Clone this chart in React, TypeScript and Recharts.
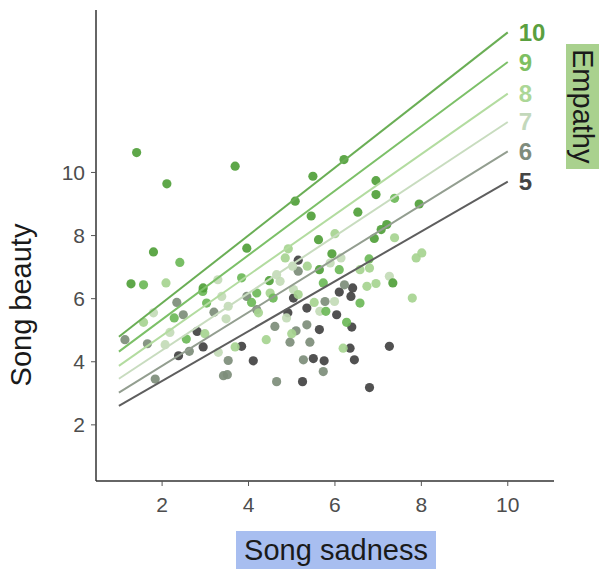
import React from "react";
import { ComposedChart, Scatter, XAxis, YAxis } from "recharts";

// empathy levels, low to high
const EMPATHY = [5, 6, 7, 8, 9, 10];
const POINT_COLORS = ["#424242", "#7d8d7a", "#c3dbb7", "#a6d490", "#6cb858", "#50a03a"];
const LINE_COLORS = ["#5e5e5e", "#939e90", "#c8dcbf", "#b3dca0", "#7cc068", "#6aae55"];
const LABEL_COLORS = ["#454545", "#7f8c7d", "#c3d8bb", "#acd797", "#7dbf62", "#5aa03f"];

// fitted lines: song sadness 1 -> 10
const LINE_X = [1, 10];
const LINE_START = [2.6, 3.02, 3.46, 3.87, 4.32, 4.79];
const LINE_END = [9.71, 10.67, 11.6, 12.5, 13.5, 14.44];

const X_TICKS = [2, 4, 6, 8, 10];
const Y_TICKS = [2, 4, 6, 8, 10];

// [song sadness, song beauty]
const pts5 = [
  [5.15, 7.22], [5.04, 6.02], [6.1, 6.21], [6.41, 6.34], [6.37, 6.07], [5.35, 5.7], [6.04, 5.49],
  [4.91, 5.55], [5.64, 5.02], [6.39, 5.1], [6.35, 4.43], [7.26, 4.49], [4.11, 4.03], [5.5, 4.1],
  [5.75, 4.03], [6.45, 4.06], [5.25, 3.37], [6.8, 3.18], [2.81, 4.96], [2.95, 4.47], [2.38, 4.19],
  [3.84, 4.49],
];
const pts6 = [
  [5.15, 6.87], [6.22, 6.44], [5.77, 5.91], [4.19, 5.65], [4.61, 5.12], [5.1, 4.98], [5.35, 5.17],
  [4.96, 4.62], [5.42, 4.62], [5.27, 4.06], [5.73, 3.69], [4.65, 3.37], [3.96, 6.07], [2.34, 5.88],
  [2.49, 5.49], [3.2, 5.57], [1.14, 4.7], [1.66, 4.57], [2.63, 4.33], [3.53, 4.04], [3.42, 3.56],
  [3.51, 3.59], [1.84, 3.45],
];
const pts7 = [
  [6.14, 7.29], [5.02, 7.03], [7.26, 6.71], [4.73, 6.55], [5.04, 6.29], [5.65, 5.6], [5.99, 5.91],
  [4.88, 5.39], [3.29, 6.6], [3.38, 6.07], [1.8, 5.55], [3.53, 5.76], [3.48, 5.36], [2.07, 4.54],
  [2.18, 4.93], [3.3, 4.3], [5.89, 7.13], [4.65, 6.76],
];
const pts8 = [
  [7.38, 7.93], [6.0, 8.06], [4.92, 7.58], [4.85, 7.29], [7.88, 7.29], [8.01, 7.45], [5.36, 7.03],
  [6.58, 6.92], [6.8, 6.97], [7.79, 6.02], [6.74, 6.39], [6.95, 6.48], [5.52, 5.88], [4.23, 5.55],
  [5.0, 4.89], [4.41, 4.7], [6.19, 4.43], [2.09, 6.5], [4.5, 6.18], [1.57, 5.25], [2.99, 4.89],
  [3.69, 4.47], [5.15, 6.13],
];
const pts9 = [
  [2.41, 7.15], [7.38, 9.18], [6.79, 7.26], [6.1, 6.92], [1.57, 6.44], [2.94, 6.23], [3.84, 6.66],
  [4.19, 6.18], [4.57, 6.02], [5.73, 6.5], [6.58, 5.86], [5.79, 5.6], [6.27, 5.25], [3.03, 5.86],
  [4.07, 5.88], [2.28, 5.39], [2.56, 4.72],
];
const pts10 = [
  [1.41, 10.63], [2.11, 9.64], [3.69, 10.2], [1.8, 7.48], [3.96, 7.6], [6.21, 10.41], [5.49, 9.88],
  [5.08, 9.09], [6.95, 9.74], [6.95, 9.3], [5.45, 8.62], [6.53, 8.74], [7.95, 9.0], [7.2, 8.35],
  [7.07, 8.19], [6.91, 7.91], [5.62, 7.87], [5.93, 7.42], [5.64, 6.92], [7.34, 6.5], [1.28, 6.47],
  [2.95, 6.34], [4.48, 6.57],
];
const POINTS = [pts5, pts6, pts7, pts8, pts9, pts10];

const FONT = "'Liberation Sans', Arial, sans-serif";

export default function App() {
  return (
    <div style={{ position: "absolute", left: 0, top: 0, width: 600, height: 569, fontFamily: FONT }}>
      <ComposedChart width={600} height={569} margin={{ top: 10, right: 46, bottom: 0, left: 0 }}>
        <XAxis
          type="number"
          dataKey="x"
          domain={[0.47, 11.07]}
          ticks={X_TICKS}
          height={88}
          axisLine={{ stroke: "#333", strokeWidth: 1.5 }}
          tickLine={{ stroke: "#555" }}
          tickSize={5}
          tickMargin={11}
          tick={{ fill: "#4d4d4d", fontSize: 21, fontFamily: FONT }}
          allowDataOverflow
        />
        <YAxis
          type="number"
          dataKey="y"
          domain={[0.22, 15.15]}
          ticks={Y_TICKS}
          width={96}
          axisLine={{ stroke: "#333", strokeWidth: 1.5 }}
          tickLine={{ stroke: "#555" }}
          tickSize={5}
          tickMargin={6}
          tick={{ fill: "#4d4d4d", fontSize: 21, fontFamily: FONT }}
          allowDataOverflow
        />
        {POINTS.map((pts, i) => (
          <Scatter
            key={`pts-${EMPATHY[i]}`}
            data={pts.map(([x, y]) => ({ x, y }))}
            isAnimationActive={false}
            shape={(p: any) => <circle cx={p.cx} cy={p.cy} r={4.6} fill={POINT_COLORS[i]} fillOpacity={0.92} />}
          />
        ))}
        {EMPATHY.map((e, i) => (
          <Scatter
            key={`line-${e}`}
            data={LINE_X.map((x, j) => ({ x, y: j === 0 ? LINE_START[i] : LINE_END[i] }))}
            line={{ stroke: LINE_COLORS[i], strokeWidth: 2 }}
            isAnimationActive={false}
            shape={(p: any) =>
              p.payload.x === LINE_X[1] ? (
                <text
                  x={p.cx + 11}
                  y={p.cy}
                  dominantBaseline="central"
                  fill={LABEL_COLORS[i]}
                  fontSize={24}
                  fontWeight="bold"
                  fontFamily={FONT}
                >
                  {e}
                </text>
              ) : (
                <g />
              )
            }
          />
        ))}
      </ComposedChart>
      <div
        style={{
          position: "absolute",
          left: 21,
          top: 305,
          transform: "translate(-50%, -50%) rotate(-90deg)",
          whiteSpace: "nowrap",
          fontSize: 29,
          color: "#1a1a1a",
        }}
      >
        Song beauty
      </div>
      <div
        style={{
          position: "absolute",
          left: 236,
          top: 531,
          width: 200,
          height: 38,
          lineHeight: "38px",
          background: "#a8bef0",
          textAlign: "center",
          fontSize: 29,
          color: "#1a1a1a",
          whiteSpace: "nowrap",
        }}
      >
        Song sadness
      </div>
      <div
        style={{
          position: "absolute",
          left: 566,
          top: 44,
          width: 33,
          height: 125,
          background: "#a9d18e",
          writingMode: "vertical-rl",
          textAlign: "center",
          lineHeight: "33px",
          fontSize: 29,
          color: "#1a1a1a",
          whiteSpace: "nowrap",
        }}
      >
        Empathy
      </div>
    </div>
  );
}
